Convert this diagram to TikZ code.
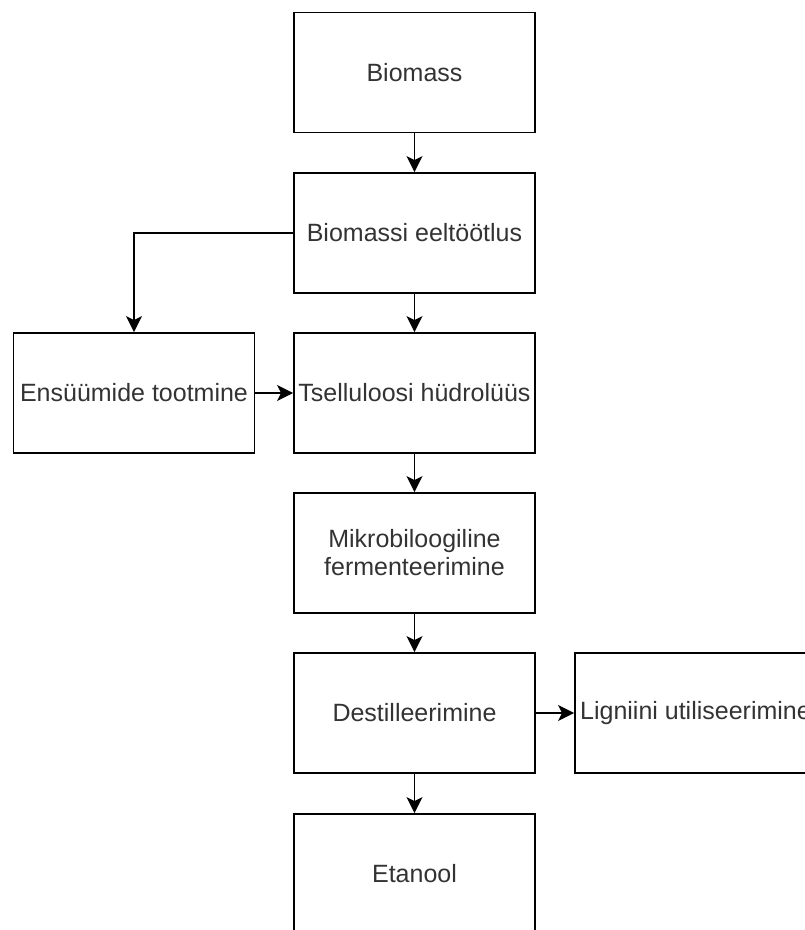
\documentclass[tikz,border=0pt]{standalone}
\usepackage{fontspec}
\setmainfont{Liberation Sans}
\usetikzlibrary{arrows.meta}
\definecolor{txtgray}{HTML}{333333}
\begin{document}
\begin{tikzpicture}[x=1pt,y=-1pt,
  stepbox/.style={draw=black,line width=1.8pt,rectangle,inner sep=0pt,
    minimum width=241pt,minimum height=120pt},
  txt/.style={text=txtgray,font=\fontsize{25}{28}\selectfont,align=center,inner sep=0pt},
  flow/.style={draw=black,line width=1.8pt,-{Stealth[length=16pt,width=16pt,inset=4pt]}}]
\useasboundingbox (0,0) rectangle (805,930);
% process boxes, labels centred in each box
\node[stepbox,label={[txt]center:Biomass}] (bio) at (414.5,72.5) {};
\node[stepbox,label={[txt]center:Biomassi eeltöötlus}] (pre) at (414.5,233) {};
\node[stepbox,label={[txt]center:Tselluloosi hüdrolüüs}] (hyd) at (414.5,393) {};
\node[stepbox,label={[txt]center:Ensüümide tootmine}] (enz) at (134,393) {};
\node[stepbox,label={[txt]center:{Mikrobiloogiline\\fermenteerimine}}] (fer) at (414.5,553) {};
\node[stepbox,label={[txt]center:Destilleerimine}] (des) at (414.5,713) {};
\node[stepbox,label={[txt]center:Ligniini utiliseerimine}] (lig) at (695.5,713) {};
\node[stepbox,label={[txt]center:Etanool}] (eta) at (414.5,874) {};
% connectors
\draw[flow] (bio) -- (pre);
\draw[flow] (pre) -- (hyd);
\draw[flow] (pre.west) -| (enz.north);
\draw[flow] (enz) -- (hyd);
\draw[flow] (hyd) -- (fer);
\draw[flow] (fer) -- (des);
\draw[flow] (des) -- (lig);
\draw[flow] (des) -- (eta);
\end{tikzpicture}
\end{document}
